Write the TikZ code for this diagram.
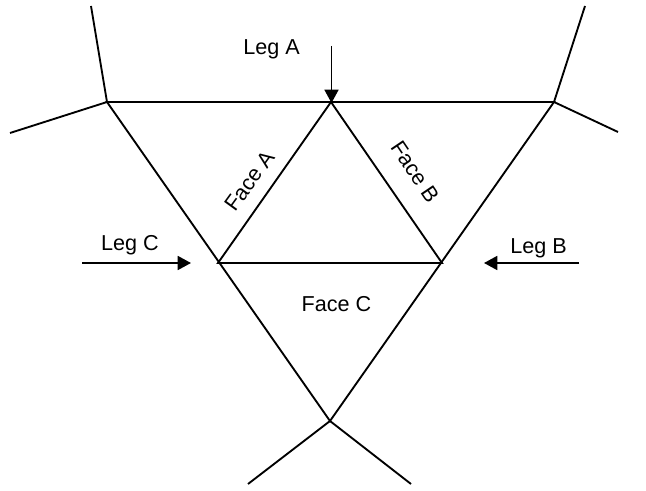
\documentclass[tikz,border=0pt]{standalone}
\usepackage{fontspec}
\setmainfont{Liberation Sans}
\usetikzlibrary{arrows.meta}
\tikzset{
  edge/.style={line width=1.4pt,black},
  pointer/.style={line width=1.3pt,black,-{Triangle[length=10pt,width=10.5pt]}},
  lab/.style={font=\fontsize{16.2pt}{19pt}\selectfont,inner sep=0pt}
}
\begin{document}
\begin{tikzpicture}[x=0.75pt,y=-0.75pt]
\useasboundingbox (0,0) rectangle (646,491);
\coordinate (TL) at (107,102);
\coordinate (TM) at (331,102);
\coordinate (TR) at (554,102);
\coordinate (ML) at (218,263);
\coordinate (MR) at (442,263);
\coordinate (B) at (330,421);
\coordinate (e1) at (91,6);
\coordinate (e2) at (10,133);
\coordinate (e3) at (585,6);
\coordinate (e4) at (618,132);
\coordinate (e5) at (248,484);
\coordinate (e6) at (411,484);
\coordinate (a1s) at (331.5,46);
\coordinate (a1e) at (331.5,103);
\coordinate (a2s) at (82,263);
\coordinate (a2e) at (191,263);
\coordinate (a3s) at (579,263);
\coordinate (a3e) at (484,263);
\draw[edge] (TL) -- (TR) -- (B) -- cycle;
\draw[edge] (TM) -- (ML) -- (MR) -- cycle;
\draw[edge] (TL) -- (e1);
\draw[edge] (TL) -- (e2);
\draw[edge] (TR) -- (e3);
\draw[edge] (TR) -- (e4);
\draw[edge] (B) -- (e5);
\draw[edge] (B) -- (e6);
\draw[pointer] (a1s) -- (a1e);
\draw[pointer] (a2s) -- (a2e);
\draw[pointer] (a3s) -- (a3e);
\node[lab] (la) at (271.5,49) {Leg A};
\node[lab] (lc) at (130,245) {Leg C};
\node[lab] (lb) at (538.5,248) {Leg B};
\node[lab] (fc) at (336.5,304) {Face C};
\node[lab,rotate=54] (fa) at (250,181) {Face A};
\node[lab,rotate=-56] (fb) at (415,172) {Face B};
\end{tikzpicture}
\end{document}
